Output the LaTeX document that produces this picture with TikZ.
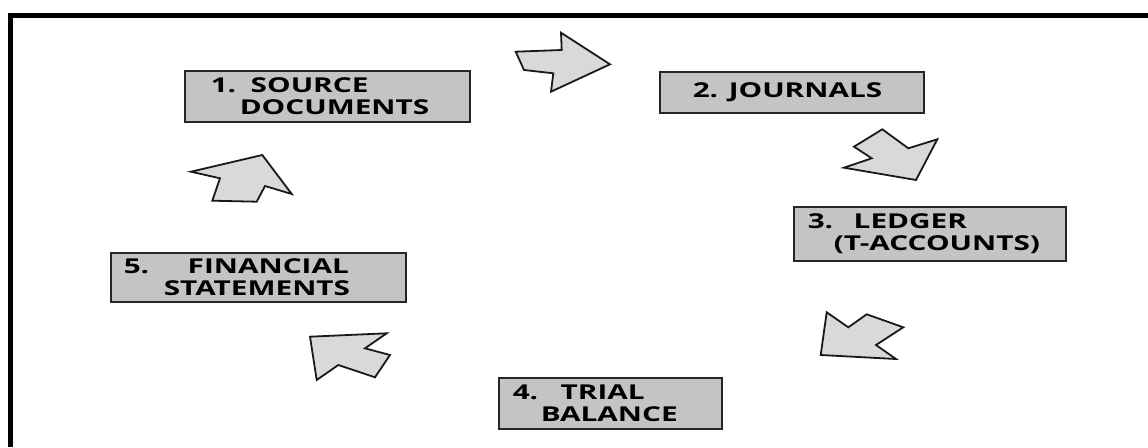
\documentclass[tikz,border=0pt]{standalone}
\usepackage{fontspec}
\newfontfamily\stagefont[FakeStretch=1.45]{Open Sans}
\begin{document}
\begin{tikzpicture}[x=1pt, y=-1pt,
  stage/.style={draw=black!85, line width=1.5pt, fill=black!23, inner sep=0pt,
    anchor=north west, align=left,
    font=\stagefont\bfseries\fontsize{20.5}{21.5}\selectfont},
  turn/.style={draw=black!90, line width=1.8pt, fill=black!15, line join=miter}]
  \useasboundingbox (0,0) rectangle (1148,447);
  \draw[line width=5.5pt] (10.5,447) -- (10.5,15.5) -- (1148,15.5);
  % the five stages
  \node[stage, text width=285pt, minimum height=51pt] (src) at (184,70)
    {\hspace*{26pt}\makebox[40pt][l]{1.}SOURCE\\\hspace*{55pt}DOCUMENTS};
  \node[stage, text width=264pt, minimum height=41pt] (jrn) at (659,71)
    {\hspace*{33pt}\makebox[36pt][l]{2.}JOURNALS};
  \node[stage, text width=272pt, minimum height=54pt] (ldg) at (793,206)
    {\hspace*{14pt}\makebox[46pt][l]{3.}LEDGER\\\hspace*{40pt}(T-ACCOUNTS)};
  \node[stage, text width=223pt, minimum height=51pt] (trl) at (498,377)
    {\hspace*{14pt}\makebox[48pt][l]{4.}TRIAL\\\hspace*{42pt}BALANCE};
  \node[stage, text width=295pt, minimum height=49pt] (fin) at (110,252)
    {\hspace*{13pt}\makebox[64pt][l]{5.}FINANCIAL\\\hspace*{53pt}STATEMENTS};
  % block arrows between them
  \draw[turn] (515.7,51.7) -- (561.7,50) -- (561,32.7) -- (610,64.3)
    -- (551,91.7) -- (553.3,73.3) -- (524,70) -- cycle;
  \draw[turn] (854,146.7) -- (882.3,129.3) -- (908.3,148.3) -- (937.3,139.3)
    -- (916,180) -- (844,167.7) -- (871.7,158.3) -- cycle;
  \draw[turn] (826.7,312.3) -- (848.3,327.3) -- (866.7,314.3) -- (903.3,327.3)
    -- (876,345) -- (896,359) -- (820.7,355) -- cycle;
  \draw[turn] (310,336.7) -- (386.7,333.3) -- (365,348.3) -- (390,355)
    -- (375,377.3) -- (338.3,365) -- (316.7,380) -- cycle;
  \draw[turn] (191,171.7) -- (262.3,155) -- (291.7,194) -- (265,186)
    -- (256.7,201.7) -- (212.3,200.7) -- (220,178.3) -- cycle;
\end{tikzpicture}
\end{document}
